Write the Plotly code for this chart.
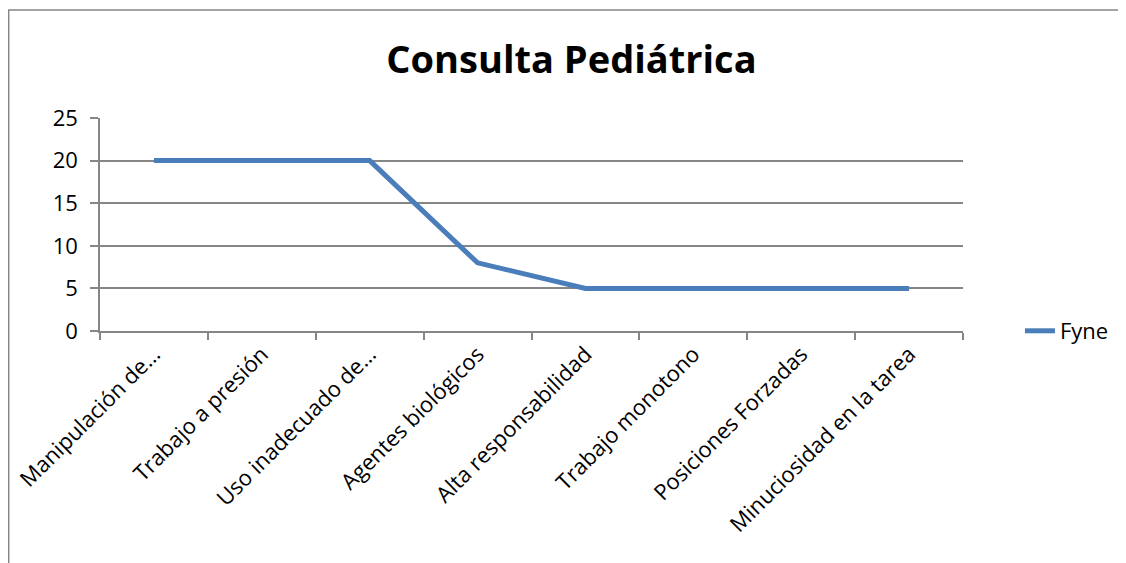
import plotly.graph_objects as go

# data
categories = [
    "Manipulación de…",
    "Trabajo a presión",
    "Uso inadecuado de…",
    "Agentes biológicos",
    "Alta responsabilidad",
    "Trabajo monotono",
    "Posiciones Forzadas",
    "Minuciosidad en la tarea",
]
fyne = [20, 20, 20, 8, 5, 5, 5, 5]
y_ticks = [0, 5, 10, 15, 20, 25]

LINE = "#4A7EBB"
GRID = "#868686"
FONT = "Open Sans, Noto Sans, sans-serif"

fig = go.Figure()
fig.add_trace(go.Scatter(
    x=categories, y=fyne, name="Fyne", mode="lines",
    line=dict(color=LINE, width=5),
))

# page has an 8px body margin, so the figure is a bit smaller than the window
fig.update_layout(
    width=1118, height=555,
    margin=dict(l=92, r=161, t=110, b=232),
    paper_bgcolor="white", plot_bgcolor="white",
    font=dict(family=FONT, size=22, color="black"),
    title=dict(text="<b>Consulta Pediátrica</b>", x=0.504, xanchor="center",
               y=0.906, yanchor="middle", font=dict(size=38, family=FONT)),
    showlegend=True,
    legend=dict(x=1.066, xanchor="left", y=0, yanchor="middle",
                font=dict(size=22), bgcolor="rgba(0,0,0,0)"),
    shapes=[dict(type="rect", xref="paper", yref="paper",
                 x0=-0.1058, x1=1.185, y0=-1.5, y1=1.507,
                 line=dict(color="#868686", width=1.5), layer="below")],
)
fig.update_xaxes(
    type="category", range=[-0.5, 7.5], tickangle=-45,
    showline=True, linecolor=GRID, linewidth=1.5,
    ticks="outside", tickson="boundaries", ticklen=7, tickcolor=GRID, tickwidth=1.5,
    showgrid=False, tickfont=dict(size=22), automargin=False,
)
fig.update_yaxes(
    range=[0, 25], tickvals=y_ticks,
    showline=True, linecolor=GRID, linewidth=1.5,
    ticks="outside", ticklen=8, tickcolor=GRID, tickwidth=1.5,
    showgrid=True, gridcolor=GRID, gridwidth=1.5, zeroline=False,
    tickfont=dict(size=22), ticklabelstandoff=8, automargin=False,
)

fig.write_html("out.html")
